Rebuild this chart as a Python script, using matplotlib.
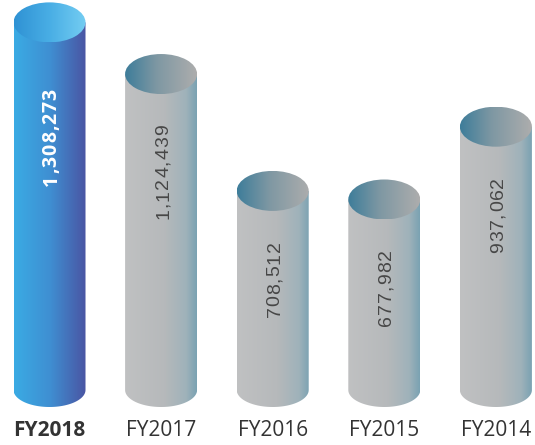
import numpy as np
import matplotlib
matplotlib.use("Agg")
import matplotlib.pyplot as plt
from matplotlib.colors import LinearSegmentedColormap
from matplotlib.patches import Ellipse, PathPatch
from matplotlib.path import Path
from matplotlib.transforms import ScaledTranslation
from matplotlib.font_manager import FontProperties

# data
years = ["FY2018", "FY2017", "FY2016", "FY2015", "FY2014"]
values = [1308273, 1124439, 708512, 677982, 937062]
value_labels = ["1,308,273", "1,124,439", "708,512", "677,982", "937,062"]

# pixel layout (figure is 535x445 at 100 dpi)
W, H = 535, 445
base_px = 390          # pixel row of value 0
px_per_unit = 2.81e-4
x0_px, dx_px = 49.5, 111.6
rx_px, ry_top_px, ry_bot_px = 36, 20, 17

body_blue = LinearSegmentedColormap.from_list("bb", ["#3aabe4", "#3f8fd2", "#4a55a3"])
top_blue = LinearSegmentedColormap.from_list("tb", ["#2f92d4", "#49aee5", "#74cdf2"])
body_gray = LinearSegmentedColormap.from_list(
    "bg", [(0, "#c0c1c2"), (0.55, "#b6b9bb"), (0.85, "#9fb2ba"), (1, "#7aa2b2")])
top_gray = LinearSegmentedColormap.from_list(
    "tg", [(0, "#3e7d9a"), (0.45, "#7f98a3"), (1, "#adadad")])

fig = plt.figure(figsize=(W / 100, H / 100), dpi=100)
ax = fig.add_axes([0, 0, 1, 1])
ax.axis("off")

rx = rx_px / dx_px
ry_t = ry_top_px / px_per_unit
ry_b = ry_bot_px / px_per_unit
grad = np.linspace(0, 1, 256).reshape(1, -1)


def gradient_fill(path_patch, extent, cmap):
    ax.add_patch(path_patch)
    im = ax.imshow(grad, cmap=cmap, extent=extent, aspect="auto",
                   interpolation="bicubic", zorder=2)
    im.set_clip_path(path_patch)


def spaced_vertical_text(x, y, s, top_px, prop, color, track_px):
    renderer = fig.canvas.get_renderer()
    widths = [renderer.get_text_width_height_descent(c, prop, ismath=False)[0] for c in s]
    total = sum(widths) + track_px * (len(s) - 1)
    cap = prop.get_size_in_points() * 100 / 72 * 0.72
    pos = -top_px - total
    for c, w in zip(s, widths):
        tr = ax.transData + ScaledTranslation(cap / 2 / 100, pos / 100, fig.dpi_scale_trans)
        ax.text(x, y, c, rotation=90, rotation_mode="anchor", ha="left",
                va="baseline", fontproperties=prop, color=color,
                transform=tr, zorder=5)
        pos += w + track_px


for i, (yr, v, lab) in enumerate(zip(years, values, value_labels)):
    cx = i
    first = i == 0
    theta = np.linspace(np.pi, 2 * np.pi, 80)
    pts = [(cx - rx, v)] + list(zip(cx + rx * np.cos(theta), ry_b * np.sin(theta))) + [(cx + rx, v), (cx - rx, v)]
    body = PathPatch(Path(pts, closed=True), facecolor="none", edgecolor="none")
    gradient_fill(body, [cx - rx, cx + rx, -ry_b, v], body_blue if first else body_gray)

    top = Ellipse((cx, v), 2 * rx, 2 * ry_t, facecolor="none", edgecolor="none")
    gradient_fill(top, [cx - rx, cx + rx, v - ry_t, v + ry_t], top_blue if first else top_gray)

    if first:
        prop = FontProperties(family="Open Sans", weight="bold", size=14)
        spaced_vertical_text(cx, v, lab, 66, prop, "white", 1.0)
    else:
        prop = FontProperties(family="Liberation Sans", size=14)
        spaced_vertical_text(cx, v, lab, 50, prop, "#474747", 1.0)

    ax.text(cx, (base_px - 431) / px_per_unit, yr, ha="center", va="center",
            fontsize=15, family="Open Sans",
            fontweight="bold" if first else "normal", color="#333333")

ax.set_xlim(-x0_px / dx_px, (W - x0_px) / dx_px)
ax.set_ylim(-(H - base_px) / px_per_unit, base_px / px_per_unit)

fig.savefig("out.png", dpi=100)
